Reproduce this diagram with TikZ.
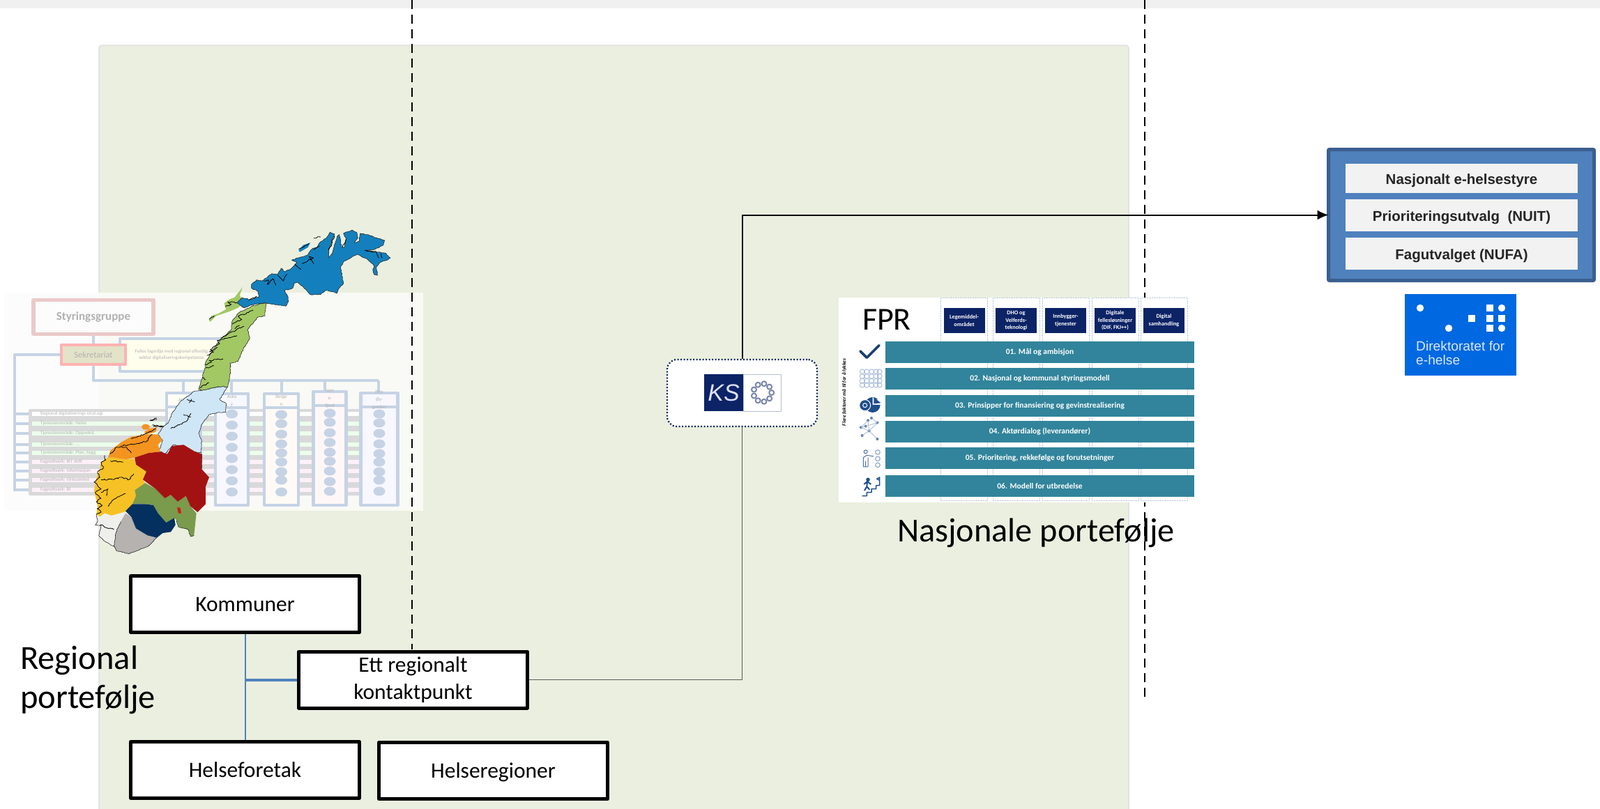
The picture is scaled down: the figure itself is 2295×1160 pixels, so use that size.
\documentclass[tikz,border=0pt]{standalone}
\usepackage{fontspec}
\setmainfont{Carlito}
\newfontfamily\arialfont{Liberation Sans}
\usetikzlibrary{arrows.meta,positioning,decorations.pathmorphing}
\definecolor{panelgreen}{HTML}{EBEFDF}
\definecolor{fadeblue}{HTML}{C5D3E5}
\definecolor{fadegray}{HTML}{D9D9D9}
\definecolor{fadetext}{HTML}{B2B2B2}
\definecolor{fadepink}{HTML}{EBC9C9}
\definecolor{fadeolive}{HTML}{E3E3C9}
\definecolor{boardfill}{HTML}{4F81BD}
\definecolor{boardline}{HTML}{3A5F8F}
\definecolor{barteal}{HTML}{31849B}
\definecolor{headnavy}{HTML}{0C2366}
\definecolor{icona}{HTML}{1F4E8C}
\definecolor{iconb}{HTML}{9DB3D3}
\definecolor{mapblue}{HTML}{1380BD}
\definecolor{mapgreen}{HTML}{A2C864}
\definecolor{mapice}{HTML}{CFE6F7}
\definecolor{maporange}{HTML}{F39420}
\definecolor{mapyellow}{HTML}{F6C125}
\definecolor{mapred}{HTML}{A31212}
\definecolor{mapolive}{HTML}{7A9A4C}
\definecolor{mapnavy}{HTML}{03305E}
\definecolor{mapgrey}{HTML}{B5B2B0}
\definecolor{mapwhite}{HTML}{EFEFEC}
\definecolor{dirblue}{HTML}{0068E0}
\newcommand{\fsz}[2]{\fontsize{#1}{#2}\selectfont}
\begin{document}
\begin{tikzpicture}[x=1pt,y=-1pt,line join=round]
  \tikzstyle{blackbox}=[draw=black,fill=white,line width=5pt,minimum width=328pt,minimum height=81pt,align=center,font=\fsz{31.5}{39}]
  \tikzstyle{rowbox}=[fill=black!5,minimum width=333pt,text=black!85,text height=18pt,text depth=2pt,font=\arialfont\bfseries\fsz{20.5}{24}]
  \tikzstyle{barbox}=[fill=barteal,minimum width=443pt,minimum height=31pt,text=white,font=\bfseries\fsz{11.5}{13}]
  \tikzstyle{headbox}=[fill=headnavy,minimum width=59pt,minimum height=36pt,text=white,align=center,inner sep=0pt,font=\bfseries\fsz{8.2}{10.5}]
  \tikzstyle{dotcol}=[draw=iconb!70,densely dotted,minimum width=67pt,minimum height=291pt,anchor=north]
  \tikzstyle{fadeline}=[draw=fadeblue,line width=4pt]
  \tikzstyle{fadelabel}=[text=fadetext,font=\fsz{7}{11},align=center,inner sep=0pt]
  \tikzstyle{fjord}=[draw=black,line width=.8pt,decorate,decoration={random steps,segment length=2.2pt,amplitude=1pt}]
  \tikzstyle{coast}=[draw=black!85,line width=.6pt,decorate,decoration={random steps,segment length=2.5pt,amplitude=.6pt}]
  \tikzstyle{north frame}=[xshift=340pt,yshift=-320pt,x=.3333pt,y=-.3333pt]
  \tikzstyle{mid frame}=[xshift=200pt,yshift=-430pt,x=.3333pt,y=-.3333pt]
  \tikzstyle{south frame}=[xshift=130pt,yshift=-560pt,x=.3333pt,y=-.3333pt]
  \tikzstyle{icon frame}=[xshift=1210pt,yshift=-480pt,x=.3333pt,y=-.3333pt]

  \useasboundingbox (0,0) rectangle (2295,1160);
  \fill[white] (0,0) rectangle (2295,1160);
  \fill[black!6] (0,0) rectangle (2295,12);
  \draw[black!12,fill=panelgreen,line width=1.5pt,rounded corners=4pt] (142,65) rectangle (1619,1175);

  \fill[white!99!black] (6,420) rectangle (142,733);
  \fill[white!70!panelgreen] (142,420) rectangle (607,733);
  \fill[fadegray,rounded corners=2pt] (41,587) rectangle (518,711);
  \foreach \rowname/\rowy/\rowtint/\rowtext in {
    rega/594/white/{Regional digitaliserings strat.egi},
    rowb/608/green!8/{Tjenesteområde:  Helse},
    rowc/622/green!8/{Tjenesteområde:  Oppvekst},
    rowd/638/green!8/{Tjenesteområde:  ...},
    rowe/650/green!8/{Tjenesteområde:  Plan, bygg},
    rowf/663/magenta!6/{Fagnettverk:  IKT drift},
    rowg/676/magenta!6/{Fagnettverk:  Informasjon},
    rowh/689/magenta!6/{Fagnettverk:  Virksomhet},
    rowi/703/magenta!6/{Fagnettverk:  BI}}{
    \fill[\rowtint] (46,\rowy-3) rectangle (518,\rowy+2.5);
    \node[fadelabel,anchor=west] (\rowname) at (58,\rowy) {\rowtext};
    \draw[fadeline] (21,\rowy) -- (41,\rowy);
  }

  \node[draw=fadeblue,fill=yellow!7,line width=4pt,minimum width=148pt,minimum height=47pt] (felles) at (246,509) {};
  \node[fadelabel,font=\fsz{7}{9.5}] (fellestext) at (246,509) {Felles fagmiljø med regional offentlig\\sektor digitaliseringskompetanse};
  \node[draw=red!30,fill=fadeolive,line width=4.5pt,minimum width=92pt,minimum height=28pt,text=fadetext,font=\fsz{12.5}{14}] (sekr) at (134,509) {Sekretariat};
  \node[draw=fadepink,fill=white!99!black,line width=5.5pt,minimum width=172pt,minimum height=49pt,text=fadetext,font=\bfseries\fsz{17}{19}] (styre) at (134,455) {Styringsgruppe};
  \coordinate (busa) at (134,546);
  \coordinate (busb) at (21,705);
  \draw[fadeline] (styre) -- (sekr);
  \draw[fadeline] (sekr) -- (busa) -- (543,546);
  \draw[fadeline] (sekr.west) -| (busb);

  \foreach \colname/\colx/\colw/\coltop/\dropx/\coltint/\collabel/\ellys in {
    alver/263.5/49/564/263/white!96!yellow/{Alver}/{},
    askoy/332.5/47/565/332/blue!3/{Aska\\y}/{594,610,626,642,658,674,690,706},
    bergen/403.5/49/565/404/orange!4/{Berge\\n}/{595,608,623,637,650,663,677,689,706},
    fjord/473/47/562/466/red!3/{vam\\a-\\fjord}/{593,606,621,635,649,662,676,691,705},
    oygard/544/53/564/543/blue!3/{Nye\\Øy-\\garden}/{594,607,622,637,651,663,677,689,705}}{
    \coordinate (bus\colname) at (\dropx,546);
    \draw[fadeline] (bus\colname) -- (\dropx,\coltop);
    \fill[\coltint] (\colx-\colw/2,\coltop) rectangle (\colx+\colw/2,725);
    \draw[fadeline,line width=4.5pt] (\colx-\colw/2,\coltop) rectangle (\colx+\colw/2,725);
    \draw[fadeline,line width=4.5pt] (\colx-\colw/2,\coltop+20) -- (\colx+\colw/2,\coltop+20);
    \node[fadelabel] (label\colname) at (\colx,\coltop+10) {\collabel};
    \foreach \elly in \ellys {
      \fill[fadeblue] (\colx,\elly) ellipse (8.5pt and 6.5pt);
    }
  }

  \begin{scope}[mid frame]
    \filldraw[fill=mapice,coast] plot coordinates {(380,375) (345,430) (372,445) (372,485) (340,485) (300,495) (270,535) (255,575) (268,610) (265,660) (225,655) (195,635) (145,625) (110,665) (85,650) (100,605) (80,580) (100,550) (125,530) (140,490) (175,440) (235,395) (270,390) (345,375)} -- cycle;
    \filldraw[fill=mapgreen,coast] plot coordinates {(545,15) (540,70) (510,75) (465,130) (475,165) (440,225) (425,265) (390,275) (392,310) (380,375) (345,375) (270,390) (255,385) (270,340) (280,300) (285,270) (320,210) (350,170) (395,130) (400,90) (430,55) (490,25)} -- cycle;
    \fill[mapgreen] plot coordinates {(300,90) (310,70) (340,60) (372,42) (365,15) (385,0) (410,-10) (444,-54) (432,-20) (445,15) (425,35) (390,50) (345,65) (330,70) (305,95)} -- cycle;
    \draw[fjord] (283,280) -- (310,270) -- (300,262) -- (360,255);
    \draw[fjord] (285,295) -- (320,285);
    \draw[fjord] (290,240) -- (320,225) -- (305,215) -- (345,190) -- (335,175) -- (420,155);
    \draw[fjord] (300,225) -- (335,205);
    \draw[fjord] (350,165) -- (395,140) -- (450,115);
    \draw[fjord] (400,105) -- (440,85) -- (425,70) -- (470,55) -- (490,45);
    \draw[fjord] (410,125) -- (430,110);
    \draw[fjord] (260,380) -- (300,358);
    \draw[fjord] (270,335) -- (285,345);
    \draw[fjord] (370,30) -- (395,20) -- (380,10) -- (420,12);
    \draw[fjord] (300,85) -- (322,70);
    \draw[fjord] (205,430) -- (238,440);
    \draw[fjord] (215,445) -- (225,428);
    \draw[fjord] (135,555) -- (170,540) -- (200,525) -- (222,490);
    \draw[fjord] (190,495) -- (222,505);
    \draw[fjord] (45,520) -- (75,510);
    \draw[fjord] (60,545) -- (105,545);
  \end{scope}

  \begin{scope}[north frame]
    \filldraw[fill=mapblue,coast] plot coordinates {(0,345) (20,322) (45,325) (50,332) (95,318) (90,295) (62,280) (62,265) (85,245) (105,250) (115,245) (150,218) (175,222) (190,195) (205,210) (235,195) (258,170) (235,160) (265,150) (300,140) (325,110) (345,105) (355,85) (385,65) (400,40) (420,48) (410,70) (395,120) (395,150) (410,130) (430,60) (440,50) (450,105) (462,105) (470,70) (458,45) (495,30) (515,40) (520,65) (505,85) (525,80) (530,45) (560,50) (635,75) (630,95) (590,115) (550,118) (600,125) (640,130) (660,150) (650,158) (615,170) (598,190) (605,225) (590,222) (585,205) (590,185) (560,155) (515,135) (490,150) (460,165) (445,190) (458,260) (440,280) (430,303) (405,295) (380,290) (360,308) (315,308) (295,285) (260,255) (245,260) (240,280) (205,290) (220,320) (220,340) (210,358) (160,350) (120,343) (55,355) (30,365)} -- cycle;
    \fill[mapblue] plot coordinates {(265,118) (285,95) (315,85) (305,105) (270,125)} -- cycle;
    \draw[fjord] (115,250) -- (135,245) -- (130,265) -- (155,240) -- (165,268);
    \draw[fjord] (175,225) -- (190,240) -- (200,250) -- (215,220);
    \draw[fjord] (250,178) -- (275,200);
    \draw[fjord] (280,175) -- (330,150) -- (310,145) -- (330,175);
    \draw[fjord] (330,115) -- (355,100);
    \draw[fjord] (550,118) -- (600,125) -- (610,150);
    \draw[fjord] (620,130) -- (625,150);
    \draw[fjord] (265,112) -- (310,88);
    \draw[fjord] (50,332) -- (85,318);
    \draw[fjord] (360,60) -- (330,65);
    \draw[fjord] (395,118) -- (420,55);
    \draw[fjord] (455,105) -- (468,70);
  \end{scope}

  \begin{scope}[south frame]
    \fill[maporange] plot coordinates {(75,290) (85,260) (130,225) (175,200) (235,190) (290,190) (308,215) (290,235) (300,265) (250,270) (190,290) (150,298) (100,290)} -- cycle;
    \fill[maporange] plot coordinates {(230,180) (255,165) (285,160) (280,180) (240,190)} -- cycle;
    \fill[maporange] (237,158) circle (6pt and 4pt);
    \fill[mapyellow] plot coordinates {(75,290) (100,290) (150,298) (190,295) (195,320) (240,350) (225,385) (235,400) (190,430) (195,455) (175,500) (150,522) (90,540) (60,530) (40,545) (25,535) (30,500) (15,430) (25,380) (40,340) (45,310)} -- cycle;
    \fill[mapwhite] plot coordinates {(25,535) (40,545) (60,530) (90,540) (150,525) (130,565) (110,610) (100,672) (60,650) (35,625) (45,585) (20,580)} -- cycle;
    \fill[mapgrey] plot coordinates {(150,530) (175,545) (195,595) (245,625) (285,635) (250,670) (165,705) (110,690) (100,672) (110,610) (130,565)} -- cycle;
    \fill[mapolive] plot coordinates {(235,400) (280,425) (320,465) (345,450) (375,480) (410,455) (430,500) (455,530) (445,625) (430,630) (420,600) (380,590) (370,560) (360,550) (325,570) (290,530) (270,495) (235,490) (180,490) (195,455) (190,430)} -- cycle;
    \fill[mapnavy] plot coordinates {(150,520) (180,490) (235,490) (270,495) (290,530) (325,570) (360,550) (365,580) (345,610) (310,615) (285,635) (245,625) (195,595) (175,545)} -- cycle;
    \fill[mapred] plot coordinates {(190,290) (250,270) (300,265) (330,275) (350,240) (400,235) (425,250) (450,265) (478,275) (478,340) (510,375) (495,415) (495,490) (460,525) (430,500) (410,455) (375,480) (345,450) (320,465) (280,425) (225,385) (240,350) (195,320)} -- cycle;
    \fill[red!80!black!90] plot coordinates {(372,505) (385,505) (390,530) (378,530)} -- cycle;
    \draw[coast] (478,275) -- (478,340);
    \draw[coast] (380,590) -- (420,600) -- (430,630) -- (445,625);
    \draw[coast] (370,560) -- (378,590);
    \draw[coast] (285,635) -- (250,670) -- (165,705) -- (110,690) -- (100,672) -- (60,650) -- (35,625) -- (45,585) -- (20,580) -- (30,565) -- (25,535);
    \draw[coast] (130,565) -- (110,610) -- (100,672);
    \draw[fjord] (25,535) -- (45,525) -- (28,510) -- (50,495) -- (25,480) -- (45,465) -- (20,440) -- (45,425) -- (15,395) -- (40,375) -- (30,350) -- (55,335) -- (45,310) -- (65,300) -- (60,280);
    \draw[fjord] (45,385) -- (100,385) -- (130,375) -- (165,385) -- (185,360);
    \draw[fjord] (75,500) -- (100,470) -- (150,445);
    \draw[fjord] (85,305) -- (140,310);
    \draw[fjord] (45,440) -- (75,425) -- (70,455);
    \draw[fjord] (85,275) -- (110,245) -- (150,245) -- (175,270);
    \draw[fjord] (130,240) -- (190,232) -- (240,220) -- (265,190);
    \draw[fjord] (175,210) -- (230,190) -- (280,165);
    \draw[fjord] (255,130) -- (285,125);
    \draw[fjord] (265,150) -- (310,155);
    \draw[fjord] (40,580) -- (100,600);
  \end{scope}

  \draw[black,line width=2.5pt,dash pattern=on 13pt off 8pt] (591,0) -- (591,932);
  \coordinate (nationtop) at (1642,0);
  \coordinate (nationbot) at (1642,1005);
  \draw[black,line width=2.5pt,dash pattern=on 13pt off 8pt] (nationtop) -- (nationbot);

  \node[blackbox,text height=21pt,text depth=0pt] (kommuner) at (351.5,867) {Kommuner};
  \node[blackbox] (kontakt) at (592.5,975.5) {Ett regionalt\\kontaktpunkt};
  \node[blackbox,text height=21pt,text depth=0pt] (foretak) at (351.5,1105) {Helseforetak};
  \node[blackbox,text height=21pt,text depth=0pt] (regioner) at (707.5,1106) {Helseregioner};
  \node[font=\fsz{48.5}{56},align=left,inner sep=0pt,anchor=west] (regional) at (29,976) {Regional\\portefølje};
  \coordinate (branch) at (kommuner.south |- kontakt.west);
  \draw[boardfill,line width=2pt] (kommuner) -- (foretak);
  \draw[boardfill,line width=4pt] (kontakt) -- (branch);

  \node[draw=headnavy,fill=white,line width=2.2pt,dash pattern=on 2pt off 2.5pt,rounded corners=14pt,minimum width=215pt,minimum height=96pt] (ksbox) at (1064.5,564) {};
  \node[fill=headnavy,minimum width=56pt,minimum height=53pt,inner sep=0pt,text=white!88!blue,font=\arialfont\itshape\fsz{34}{36}] (kslogo) at (1038,563.5) {KS};
  \node[draw=headnavy!30,fill=white,line width=1pt,minimum width=54pt,minimum height=53pt,right=0pt of kslogo] (ksring) {};
  \foreach \ang in {0,40,...,320}{
    \draw[headnavy!55,line width=2pt] (ksring.center) ++(\ang:13pt) circle (3.5pt);
  }

  \node[draw=boardline,fill=boardfill,line width=5pt,outer sep=0pt,minimum width=381pt,minimum height=188pt,rounded corners=1pt] (board) at (2096,308.5) {};
  \node[rowbox,minimum height=42pt] (styret) at (2096.5,256) {Nasjonalt e-helsestyre};
  \node[rowbox,minimum height=46pt] (nuit) at (2096.5,309) {Prioriteringsutvalg\ \ (NUIT)};
  \node[rowbox,minimum height=46pt] (nufa) at (2096.5,364) {Fagutvalget (NUFA)};
  \draw[-{Latex[length=16pt,width=14pt]},black,line width=2pt] (ksbox) |- (board);
  \draw[black!65,line width=1.5pt] (kontakt) -| (ksbox);

  \fill[dirblue] (2015,422) rectangle (2175,539);
  \foreach \dotx/\doty in {2037/442,2078/471,2154/442,2154/471}{
    \fill[white] (\dotx,\doty) circle (5.2pt);
  }
  \foreach \dotx/\doty in {2111/457,2137/442,2137/457,2137/471,2154/457}{
    \fill[white] (\dotx-5,\doty-5) rectangle (\dotx+5,\doty+5);
  }
  \node[text=white!85!dirblue,align=left,inner sep=0pt,anchor=north west,font=\arialfont\fsz{19.2}{20.5}] (dirtext) at (2031,489) {Direktoratet for\\e-helse};

  \fill[white] (1203,427) rectangle (1704,721);
  \foreach \colname/\colx/\headtext in {
    legem/1383/{Legemiddel-\\området},
    dho/1457.5/{DHO og\\Velferds-\\teknologi},
    innb/1528.5/{Innbygger-\\tjenester},
    digf/1599.5/{Digitale\\fellesløsninger\\(DIF, FKJ++)},
    sam/1669.5/{Digital\\samhandling}}{
    \node[dotcol] (col\colname) at (\colx,427) {};
    \node[headbox] (head\colname) at (\colx,460) {\headtext};
  }
  \node[inner sep=0pt,font=\fsz{46}{50}] (fpr) at (1272,459) {FPR};
  \node[barbox] (bara) at (1491.5,505) {01. Mål og ambisjon};
  \node[barbox] (barb) at (1491.5,543) {02. Nasjonal og kommunal styringsmodell};
  \node[barbox] (barc) at (1491.5,582) {03. Prinsipper for finansiering og gevinstrealisering};
  \node[barbox] (bard) at (1491.5,619) {04. Aktørdialog (leverandører)};
  \node[barbox] (bare) at (1491.5,657) {05. Prioritering, rekkefølge og forutsetninger};
  \node[barbox] (barf) at (1491.5,697) {06. Modell for utbredelse};
  \node[rotate=90,inner sep=0pt,font=\bfseries\itshape\fsz{7.3}{9}] (factors) at (1211,563) {Flere faktorer må til for å lykkes};

  \begin{scope}[icon frame]
    \draw[icona!80!black,line width=3.6pt,line cap=round] (72,72) -- (100,100) -- (153,47);
    \foreach \gx in {80,100,120,140,155}{
      \foreach \gy in {160,180,200,218}{
        \draw[iconb,line width=.8pt] (\gx,\gy) circle (3.5pt);
      }
    }
    \fill[icona] (125,303) -- (158,303) arc (0:-310:11pt) -- cycle;
    \fill[white] (125,303) -- (125,270) -- (160,290) -- cycle;
    \fill[icona] (130,270) -- (160,295) -- (130,298) -- cycle;
    \draw[white,fill=icona,line width=1pt] (92,305) circle (8pt);
    \draw[white,line width=1pt] (92,305) circle (3pt);
    \foreach \nx/\ny in {75/400,145/380,110/415,80/435,145/450,95/395,120/360,105/370}{
      \fill[icona!75] (\nx,\ny) circle (2pt);
    }
    \draw[iconb,line width=.7pt] (75,400) -- (110,415) -- (145,380) -- (95,395) -- (75,400) (80,435) -- (110,415) -- (145,450) (105,370) -- (110,415) (120,360) -- (145,380) (105,370) -- (75,400);
    \draw[icona!80,line width=1pt] (95,505) circle (2.5pt);
    \draw[icona!80,line width=1pt] (85,570) -- (85,530) -- (100,520) -- (130,525) (105,570) -- (105,530) (95,570) -- (95,545) (85,570) -- (105,570);
    \foreach \ny in {507,535,562}{
      \draw[iconb!80!icona,line width=1pt] (147,\ny) circle (3.3pt);
    }
    \fill[icona] (105,625) circle (2.8pt);
    \draw[icona,line width=2pt] (102,633) -- (100,655) -- (112,668) (100,655) -- (90,672) (88,645) -- (102,633) -- (118,645);
    \draw[icona,line width=1.5pt] (80,695) -- (100,695) -- (100,680) -- (120,680) -- (120,665) -- (140,665) -- (140,650) -- (155,650) -- (155,615) -- (143,622) -- (155,628);
  \end{scope}

  \node[inner sep=0pt,font=\fsz{48.3}{50},anchor=base] (national) at (1486,777) {Nasjonale portefølje};
\end{tikzpicture}
\end{document}
